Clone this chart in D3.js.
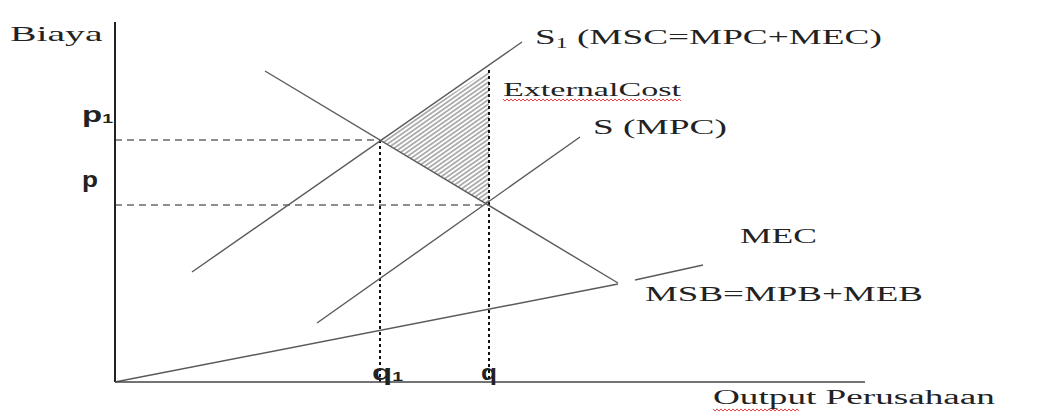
<!DOCTYPE html>
<html>
<head>
<meta charset="utf-8">
<script src="https://cdn.jsdelivr.net/npm/d3@7"></script>
<style>
  body { margin: 0; background: #fff; }
  svg { display: block; }
</style>
</head>
<body>
<svg id="chart"></svg>
<script>
// curves, in chart units (x = output, y = cost)
var msbLine = [{ x: 150, y: 311 }, { x: 503, y: 99 }];
var mscLine = [{ x: 77, y: 110 }, { x: 407, y: 340 }];
var mpcLine = [{ x: 202, y: 59 }, { x: 465, y: 245 }];
var mecLine = [{ x: 0, y: 0 }, { x: 503, y: 98 }];
var mecTail = [{ x: 520, y: 102 }, { x: 588, y: 117 }];
var externalCost = [{ x: 265, y: 242 }, { x: 374, y: 312 }, { x: 374, y: 177 }];
var equilibria = [
  { x: 265, y: 242, px: "p", qx: "q", sub: "1" },
  { x: 374, y: 177, px: "p", qx: "q", sub: "" }
];
var axisMax = { x: 750, y: 360 };

var width = 1037;
var height = 417;
var svg = d3.select("#chart").attr("width", width).attr("height", height);

var xscale = d3.scaleLinear().domain([0, axisMax.x]).range([115, 865]);
var yscale = d3.scaleLinear().domain([0, axisMax.y]).range([382, 22]);

var line = d3.line()
  .x(function (d) { return xscale(d.x); })
  .y(function (d) { return yscale(d.y); });

var serif = "'Liberation Serif', 'DejaVu Serif', serif";
var sans = "'Liberation Sans', Arial, sans-serif";

// hatch pattern for the external cost triangle
var defs = svg.append("defs");
defs.append("pattern")
  .attr("id", "hatch")
  .attr("patternUnits", "userSpaceOnUse")
  .attr("width", 3.6)
  .attr("height", 3.6)
  .attr("patternTransform", "rotate(-35)")
  .append("line")
  .attr("x1", 0).attr("y1", 1.8).attr("x2", 3.6).attr("y2", 1.8)
  .attr("stroke", "#8c8c8c")
  .attr("stroke-width", 1.3);

svg.append("path")
  .attr("d", line(externalCost) + "Z")
  .attr("fill", "url(#hatch)");

// dashed price lines
svg.selectAll(".pline")
  .data(equilibria)
  .enter()
  .append("line")
  .attr("class", "pline")
  .attr("x1", xscale(0))
  .attr("x2", function (d) { return xscale(d.x); })
  .attr("y1", function (d) { return yscale(d.y); })
  .attr("y2", function (d) { return yscale(d.y); })
  .attr("stroke", "#6a6a6a")
  .attr("stroke-width", 1.7)
  .attr("stroke-dasharray", "7,5");

// dotted quantity lines (the q one runs up to MSC)
svg.selectAll(".qline")
  .data(equilibria)
  .enter()
  .append("line")
  .attr("class", "qline")
  .attr("x1", function (d) { return xscale(d.x); })
  .attr("x2", function (d) { return xscale(d.x); })
  .attr("y1", function (d, i) { return i == 1 ? yscale(externalCost[1].y) : yscale(d.y); })
  .attr("y2", yscale(0))
  .attr("stroke", "#111")
  .attr("stroke-width", 2)
  .attr("stroke-dasharray", "3,3");

// curves
[msbLine, mscLine, mpcLine, mecLine, mecTail].forEach(function (c) {
  svg.append("path")
    .attr("d", line(c))
    .attr("fill", "none")
    .attr("stroke", "#5a5a5a")
    .attr("stroke-width", 1.4);
});

// axes
svg.append("line")
  .attr("x1", xscale(0)).attr("x2", xscale(0))
  .attr("y1", yscale(axisMax.y)).attr("y2", yscale(0))
  .attr("stroke", "#222").attr("stroke-width", 2);
svg.append("line")
  .attr("x1", xscale(0)).attr("x2", xscale(axisMax.x))
  .attr("y1", yscale(0)).attr("y2", yscale(0))
  .attr("stroke", "#444").attr("stroke-width", 1.6);

// the source picture is stretched sideways, so each label is scaled to its width
function label(x, y, w, font, parts) {
  var g = svg.append("g").attr("transform", "translate(" + x + "," + y + ")");
  var t = g.append("text").style("font", font).attr("fill", "#222");
  parts.forEach(function (p) {
    var ts = t.append("tspan").text(p.t);
    if (p.dy) ts.attr("dy", p.dy);
    if (p.size) ts.style("font-size", p.size);
  });
  var bw = t.node().getBBox().width;
  t.attr("transform", "scale(" + (w / bw) + ",1)");
  return g;
}

label(10, 41, 93, "22px " + serif, [{ t: "Biaya" }]);
label(713, 404, 282, "20px " + serif, [{ t: "Output Perusahaan" }]);

// p, p1 and q, q1 labels
var pw = [31, 16];
equilibria.forEach(function (d, i) {
  var pp = [{ t: d.px }], qp = [{ t: d.qx }];
  if (d.sub) {
    pp.push({ t: d.sub, dy: 1, size: "13px" });
    qp.push({ t: d.sub, dy: 1, size: "13px" });
  }
  label(82, yscale(d.y) - 18, pw[i], "bold 22px " + sans, pp);
  label(xscale(d.x) - 8, yscale(0) - 2, pw[i], "bold 22px " + sans, qp);
});

// curve labels
label(535, 44, 347, "22px " + serif, [
  { t: "S" }, { t: "1", dy: 4, size: "14px" }, { t: " (MSC=MPC+MEC)", dy: -4 }
]);
label(503, 96, 178, "18px " + serif, [{ t: "ExternalCost" }]);
label(593, 134, 134, "22px " + serif, [{ t: "S (MPC)" }]);
label(740, 243, 77, "20px " + serif, [{ t: "MEC" }]);
label(645, 301, 278, "20px " + serif, [{ t: "MSB=MPB+MEB" }]);

// red spell-check squiggles
function squiggle(x0, x1, y) {
  var pts = [];
  for (var x = x0, k = 0; x <= x1; x += 2, k++) pts.push([x, y + (k % 2 ? 1.1 : -1.1)]);
  svg.append("path")
    .attr("d", d3.line()(pts))
    .attr("fill", "none")
    .attr("stroke", "#e03030")
    .attr("stroke-width", 0.9);
}
squiggle(503, 681, 100);
squiggle(713, 800, 410);
</script>
</body>
</html>
